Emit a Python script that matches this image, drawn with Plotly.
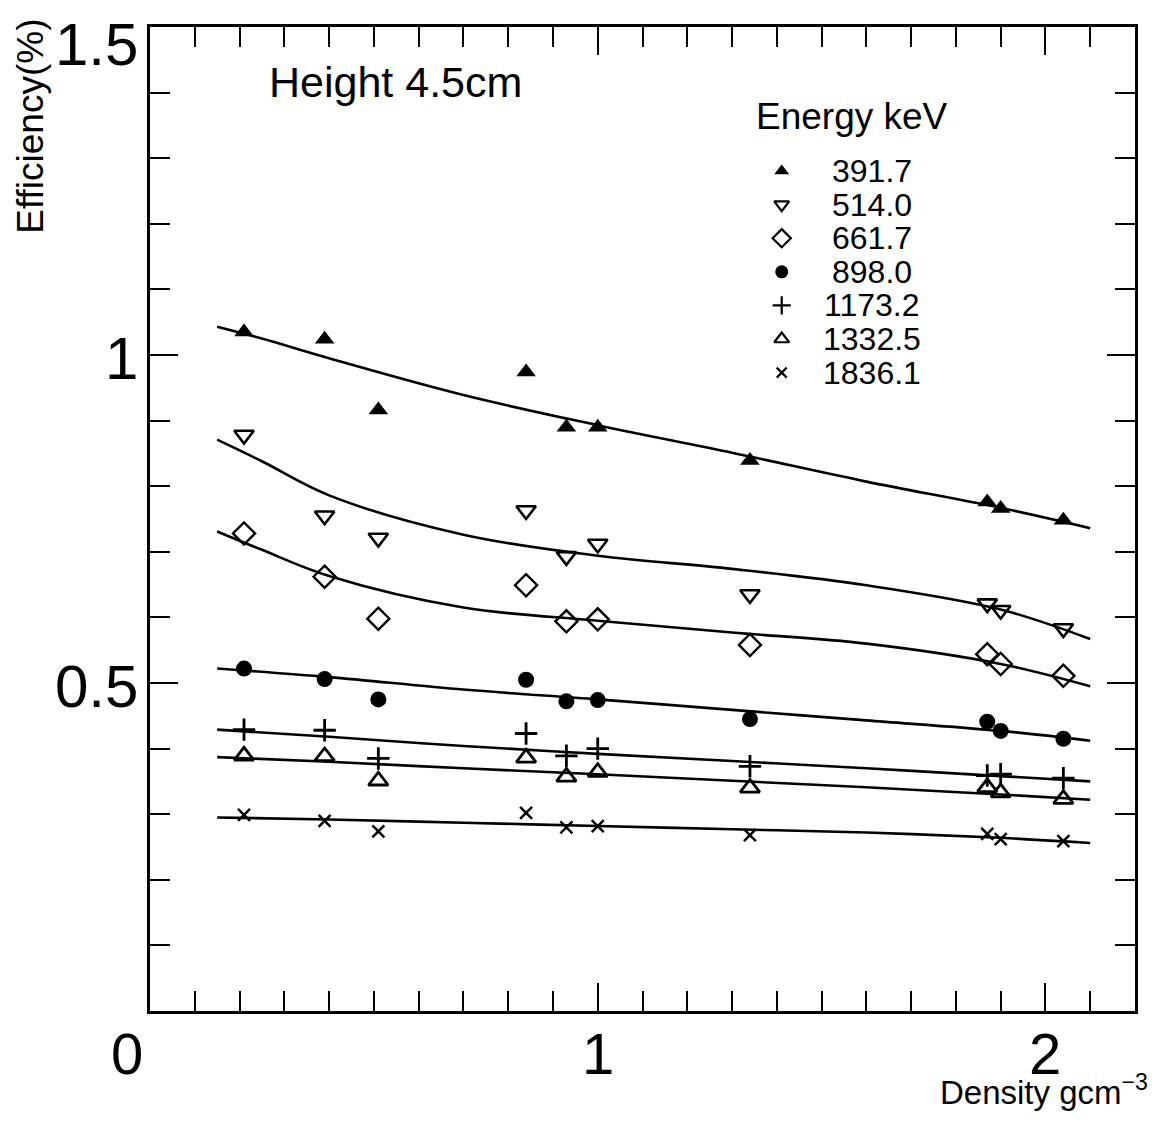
import plotly.graph_objects as go

# ---------------- data ----------------
density = [0.21, 0.39, 0.51, 0.84, 0.93, 1.00, 1.34, 1.87, 1.90, 2.04]

energies = ["391.7", "514.0", "661.7", "898.0", "1173.2", "1332.5", "1836.1"]

eff_391 = [1.035, 1.024, 0.916, 0.974, 0.890, 0.890, 0.839, 0.776, 0.766, 0.748]
eff_514 = [0.878, 0.755, 0.721, 0.763, 0.693, 0.712, 0.635, 0.621, 0.611, 0.583]
eff_661 = [0.728, 0.662, 0.598, 0.649, 0.594, 0.597, 0.558, 0.544, 0.529, 0.511]
eff_898 = [0.522, 0.506, 0.475, 0.505, 0.472, 0.474, 0.445, 0.441, 0.427, 0.415]
eff_1173 = [0.429, 0.428, 0.385, 0.423, 0.389, 0.400, 0.373, 0.359, 0.361, 0.355]
eff_1332 = [0.389, 0.388, 0.351, 0.386, 0.357, 0.364, 0.340, 0.341, 0.333, 0.323]
eff_1836 = [0.299, 0.290, 0.274, 0.302, 0.280, 0.282, 0.268, 0.270, 0.262, 0.259]

# fitted curves
fit_x_curved = [0.15, 0.25, 0.40, 0.70, 1.00, 1.30, 1.60, 1.90, 2.10]
fit_391 = [1.043, 1.025, 0.995, 0.939, 0.893, 0.851, 0.807, 0.767, 0.736]
fit_514 = [0.871, 0.838, 0.786, 0.726, 0.694, 0.674, 0.649, 0.612, 0.567]
fit_661 = [0.731, 0.703, 0.663, 0.615, 0.595, 0.577, 0.560, 0.529, 0.495]
fit_x_flat = [0.15, 0.40, 0.70, 1.00, 1.30, 1.60, 1.90, 2.10]
fit_898 = [0.522, 0.509, 0.490, 0.475, 0.459, 0.443, 0.427, 0.412]
fit_1173 = [0.429, 0.418, 0.404, 0.392, 0.381, 0.370, 0.358, 0.350]
fit_1332 = [0.387, 0.380, 0.370, 0.361, 0.351, 0.341, 0.330, 0.322]
fit_1836 = [0.295, 0.292, 0.287, 0.282, 0.277, 0.272, 0.264, 0.256]

x_tick_vals = [0, 1, 2]
x_tick_text = ["0", "1", "2"]
y_tick_vals = [0.5, 1, 1.5]
y_tick_text = ["0.5", "1", "1.5"]

X_RANGE = [0, 2.2]
Y_RANGE = [0, 1.5]

# ---------------- geometry / styling ----------------
W, H = 1158, 1122          # browser window
OFF = 8                    # page body margin
# target plot box in window pixels
BOX_L, BOX_R, BOX_T, BOX_B = 150, 1137, 27, 1011
FW, FH = W - 2 * OFF, H - 2 * OFF
ML, MT = BOX_L - OFF, BOX_T - OFF
MR, MB = OFF + FW - BOX_R, OFF + FH - BOX_B

FONT = "Liberation Sans, Arial, Helvetica, sans-serif"
BLACK = "#000000"


def px_x(p):
    return (p - BOX_L) / (BOX_R - BOX_L)


def px_y(p):
    return (BOX_B - p) / (BOX_B - BOX_T)


def dx(v):
    return BOX_L + (v - X_RANGE[0]) / (X_RANGE[1] - X_RANGE[0]) * (BOX_R - BOX_L)


def dy(v):
    return BOX_B - (v - Y_RANGE[0]) / (Y_RANGE[1] - Y_RANGE[0]) * (BOX_B - BOX_T)


series = [
    (eff_391, fit_x_curved, fit_391, dict(symbol="triangle-up", size=17, color=BLACK), 13),
    (eff_514, fit_x_curved, fit_514, dict(symbol="triangle-down-open", size=17, color=BLACK,
                                          line=dict(width=2.6, color=BLACK)), 13),
    (eff_661, fit_x_curved, fit_661, dict(symbol="diamond-open", size=17, color=BLACK,
                                          line=dict(width=2.4, color=BLACK)), 14),
    (eff_898, fit_x_flat, fit_898, dict(symbol="circle", size=16, color=BLACK), 13),
    (eff_1173, fit_x_flat, fit_1173, dict(symbol="cross-thin-open", size=16, color=BLACK,
                                          line=dict(width=2.8, color=BLACK)), 13),
    (eff_1332, fit_x_flat, fit_1332, dict(symbol="triangle-up-open", size=17, color=BLACK,
                                          line=dict(width=2.8, color=BLACK)), 13),
    (eff_1836, fit_x_flat, fit_1836, dict(symbol="x-thin-open", size=12, color=BLACK,
                                          line=dict(width=2.5, color=BLACK)), 10),
]

fig = go.Figure()

for name, (vals, fx, fy, mk, _) in zip(energies, series):
    fig.add_trace(go.Scatter(x=fx, y=fy, mode="lines", line=dict(color=BLACK, width=2.6, shape="spline"),
                             showlegend=False, hoverinfo="skip"))
    fig.add_trace(go.Scatter(x=density, y=vals, mode="markers", marker=mk, name=name, showlegend=False))

# ---- hand-built legend on an overlay axis in window-pixel units ----
LEG_SYM_X = 783
LEG_TXT_X = 873
LEG_ROW0 = 171
LEG_STEP = 33.6
for i, (name, (_, _, _, mk, lsize)) in enumerate(zip(energies, series)):
    m = dict(mk)
    m["size"] = lsize
    if "line" in m:
        m["line"] = dict(width=2.2, color=BLACK)
    fig.add_trace(go.Scatter(x=[LEG_SYM_X], y=[LEG_ROW0 + i * LEG_STEP], xaxis="x2", yaxis="y2",
                             mode="markers", marker=m, showlegend=False, hoverinfo="skip"))
    fig.add_annotation(x=px_x(LEG_TXT_X), y=px_y(LEG_ROW0 + i * LEG_STEP), xref="paper", yref="paper",
                       text=name, showarrow=False, xanchor="center", yanchor="middle",
                       font=dict(family=FONT, size=32, color=BLACK))


def text_at(xp, yp, txt, size, xanchor="center", yanchor="middle", angle=0):
    fig.add_annotation(x=px_x(xp), y=px_y(yp), xref="paper", yref="paper", text=txt, showarrow=False,
                       xanchor=xanchor, yanchor=yanchor, textangle=angle,
                       font=dict(family=FONT, size=size, color=BLACK))


text_at(755, 117, "Energy keV", 37, xanchor="left")
text_at(267, 82, "Height 4.5cm", 43, xanchor="left")
text_at(30, 17, "Efficiency(%)", 37, yanchor="top", angle=-90)
text_at(1152, OFF + FH - 1, "Density gcm<sup>−3</sup>", 33, xanchor="right", yanchor="bottom")

# tick labels
for v, t in zip(x_tick_vals, x_tick_text):
    xp = dx(v) - (23 if v == 0 else 0)
    text_at(xp, 1053, t, 58)
for v, t in zip(y_tick_vals, y_tick_text):
    if dy(v) - 36 < OFF:
        text_at(140, OFF + 1, t, 60, xanchor="right", yanchor="top")
    else:
        text_at(140, dy(v) + 3, t, 60, xanchor="right")

axis_common = dict(showline=True, linecolor=BLACK, linewidth=2.8, mirror="ticks", ticks="inside",
                   tickcolor=BLACK, tickwidth=2, showgrid=False, zeroline=False, showticklabels=False)

fig.update_layout(
    width=FW, height=FH,
    margin=dict(l=ML, r=MR, t=MT, b=MB),
    paper_bgcolor="white", plot_bgcolor="white",
    showlegend=False,
    xaxis=dict(range=X_RANGE, tickvals=x_tick_vals, ticklen=28,
               minor=dict(dtick=0.1, tick0=0, ticklen=20, ticks="inside", tickcolor=BLACK, tickwidth=2),
               **axis_common),
    yaxis=dict(range=Y_RANGE, tickvals=y_tick_vals, ticklen=28,
               minor=dict(dtick=0.1, tick0=0, ticklen=20, ticks="inside", tickcolor=BLACK, tickwidth=2),
               **axis_common),
    xaxis2=dict(range=[BOX_L, BOX_R], overlaying="x", visible=False, domain=[0, 1], fixedrange=True),
    yaxis2=dict(range=[BOX_B, BOX_T], overlaying="y", visible=False, domain=[0, 1], fixedrange=True),
)

fig.write_html("out.html")
